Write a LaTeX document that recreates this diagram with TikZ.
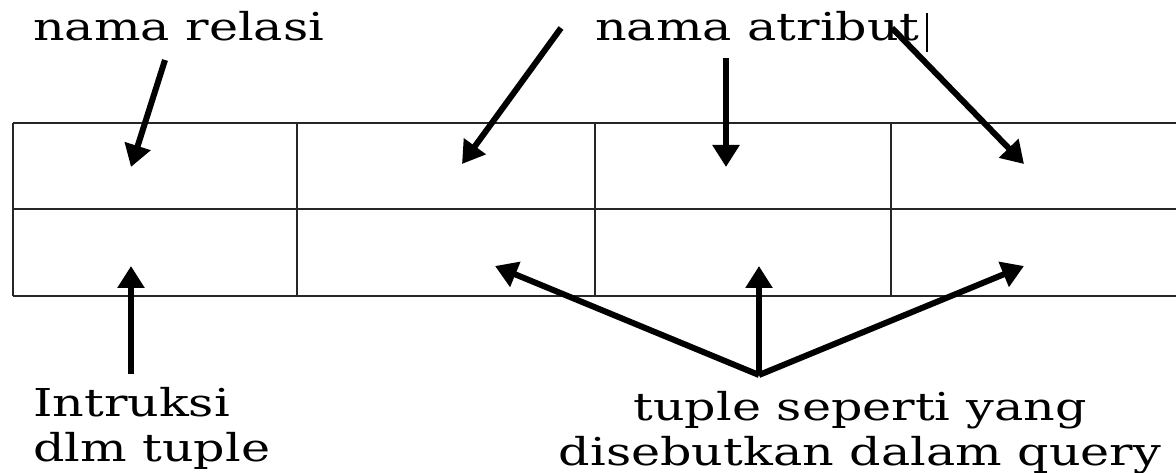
\documentclass[tikz,border=0pt]{standalone}
\usepackage{fontspec}
\setmainfont{DejaVu Serif}[FakeStretch=1.28]
\usetikzlibrary{arrows.meta}

\begin{document}
\begin{tikzpicture}[x=1pt, y=-1pt,
    grid/.style={line width=2.4pt, black!85},
    pointer/.style={line width=6pt, -{Triangle[length=22pt,width=26pt]}},
    txt/.style={inner sep=0pt, font=\fontsize{38.4}{45}\selectfont}]
    \useasboundingbox (0,0) rectangle (1176,473);
    % the relation table, open on the right
    \foreach \y in {123,209,296}
        \draw[grid] (13,\y) -- (1176,\y);
    \foreach \x in {13,297,595,891}
        \draw[grid] (\x,123) -- (\x,296);

    \node[txt, anchor=base west] (relasi) at (33,41) {nama relasi};
    \node[txt, anchor=base west] (atribut) at (595,41) {nama atribut};
    \node[txt, anchor=base west, align=left] (instr) at (33,461) {Intruksi\\dlm tuple};
    \node[txt, anchor=base, align=center] (tuple) at (860,465) {tuple seperti yang\\disebutkan dalam query};

    % arrow ends
    \coordinate (r0) at (165,60);   \coordinate (r1) at (131,167);
    \coordinate (a0) at (561,28);   \coordinate (a1) at (462,164);
    \coordinate (b0) at (726,58);   \coordinate (b1) at (726,167);
    \coordinate (c0) at (892,28);   \coordinate (c1) at (1024,164);
    \coordinate (i0) at (131,374);  \coordinate (i1) at (131,266);
    \coordinate (t0) at (759,375);
    \coordinate (t1) at (495,266);  \coordinate (t2) at (759,266);
    \coordinate (t3) at (1024,266);

    \draw[pointer] (r0) -- (r1);
    \draw[pointer] (a0) -- (a1);
    \draw[pointer] (b0) -- (b1);
    \draw[pointer] (c0) -- (c1);
    \draw[pointer] (i0) -- (i1);
    \foreach \t in {t1,t2,t3}
        \draw[pointer] (t0) -- (\t);

    % text cursor after the label
    \coordinate (k0) at (927,13);   \coordinate (k1) at (927,52);
    \draw[line width=1.2pt] (k0) -- (k1);
\end{tikzpicture}
\end{document}
